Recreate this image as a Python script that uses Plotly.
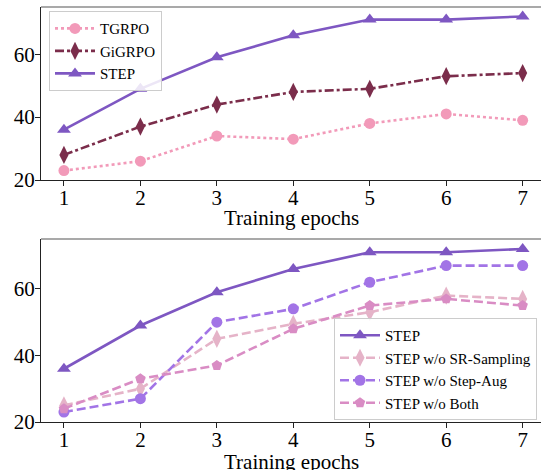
import plotly.graph_objects as go
from plotly.subplots import make_subplots

epochs = [1, 2, 3, 4, 5, 6, 7]

# top panel
tgrpo = [23, 26, 34, 33, 38, 41, 39]
gigrpo = [28, 37, 44, 48, 49, 53, 54]
step = [36, 49, 59, 66, 71, 71, 72]

# bottom panel (ablation)
step_wo_sr = [25, 30, 45, 49.5, 53, 58, 57]
step_wo_aug = [23, 27, 50, 54, 62, 67, 67]
step_wo_both = [24, 33, 37, 48, 55, 57, 55]

y_ticks = [20, 40, 60]
x_title = "Training epochs"

C_STEP = "#7E57C2"
C_GI = "#7B2D4B"
C_TG = "#F29AB9"
C_SR = "#E5B3C8"
C_AUG = "#A274E6"
C_BOTH = "#D98CC4"

FONT = "Liberation Serif"

fig = make_subplots(rows=2, cols=1, vertical_spacing=0.0)

def add(x, y, name, color, dash, symbol, size, row, legend):
    fig.add_trace(go.Scatter(
        x=x, y=y, name=name, mode="lines+markers",
        line=dict(color=color, width=2.6, dash=dash),
        marker=dict(symbol=symbol, size=size, color=color),
        legend=legend,
    ), row=row, col=1)

add(epochs, tgrpo, "TGRPO", C_TG, "dot", "circle", 11, 1, "legend")
add(epochs, gigrpo, "GiGRPO", C_GI, "dashdot", "diamond-tall", 13, 1, "legend")
add(epochs, step, "STEP", C_STEP, "solid", "triangle-up", 12, 1, "legend")

add(epochs, step, "STEP", C_STEP, "solid", "triangle-up", 12, 2, "legend2")
add(epochs, step_wo_sr, "STEP w/o SR-Sampling", C_SR, "9px,4px", "diamond-tall", 13, 2, "legend2")
add(epochs, step_wo_aug, "STEP w/o Step-Aug", C_AUG, "9px,4px", "circle", 11, 2, "legend2")
add(epochs, step_wo_both, "STEP w/o Both", C_BOTH, "9px,4px", "pentagon", 11, 2, "legend2")

def xax(anchor):
    return dict(
        showline=True, linecolor="#222", linewidth=1.2, mirror=False,
        ticks="outside", ticklen=5, tickwidth=1.2, tickcolor="#222",
        showgrid=False, zeroline=False, automargin=False,
        tickfont=dict(family=FONT, size=21, color="black"),
        ticklabelstandoff=-6,
        range=[0.7, 7.24], tickvals=epochs, ticktext=[str(e) for e in epochs],
        domain=[0, 1], anchor=anchor,
    )

def yax(domain, anchor):
    return dict(
        showline=True, linecolor="#222", linewidth=1.2, mirror=False,
        ticks="outside", ticklen=5, tickwidth=1.2, tickcolor="#222",
        showgrid=False, zeroline=False, automargin=False,
        tickfont=dict(family=FONT, size=21, color="black"),
        ticklabelstandoff=-4,
        range=[20, 75], tickvals=y_ticks, ticktext=[str(v) for v in y_ticks],
        domain=domain, anchor=anchor,
    )

fig.update_layout(
    xaxis=xax("y"), yaxis=yax([0.583, 1.0], "x"),
    xaxis2=xax("y2"), yaxis2=yax([0.0, 0.441], "x2"),
)

# x-axis titles
for ypos in [0.491, -0.096]:
    fig.add_annotation(text=x_title, xref="paper", yref="paper", x=0.5, y=ypos,
                       xanchor="center", yanchor="middle", showarrow=False,
                       borderpad=0,
                       font=dict(family=FONT, size=21, color="black"))

# top spines as shapes
for yref in ["y domain", "y2 domain"]:
    fig.add_shape(type="line", xref="paper", yref=yref, x0=0, x1=1, y0=1, y1=1,
                  line=dict(color="#555", width=1.2))

leg_common = dict(xanchor="left", yanchor="top",
                  bgcolor="rgba(255,255,255,0.85)", bordercolor="#cccccc", borderwidth=1,
                  font=dict(family=FONT, size=15, color="black"), itemwidth=40, tracegroupgap=0)

fig.update_layout(
    width=541, height=470,
    margin=dict(l=41, r=0, t=7, b=48, autoexpand=False),
    plot_bgcolor="white", paper_bgcolor="white",
    font=dict(family=FONT, size=16, color="black"),
    legend=dict(x=0.016, y=0.99, **leg_common),
    legend2=dict(x=0.586, y=0.2506, **leg_common),
)

fig.write_html("out.html", config={"displayModeBar": False},
               post_script="document.body.style.margin='0';document.body.style.overflow='hidden';")
